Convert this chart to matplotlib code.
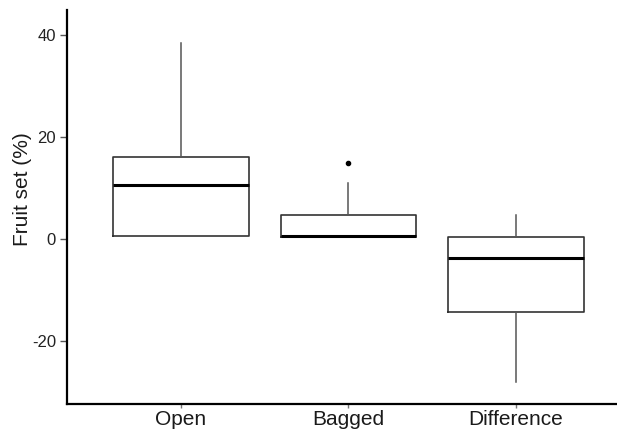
import matplotlib.pyplot as plt

# ──────────────────────────────────────────────────────────────────────────────
# Data
groups = ["Open", "Bagged", "Difference"]
q1 = [0.6, 0.45, -14.4]
med = [10.6, 0.6, -3.7]
q3 = [16.0, 4.8, 0.45]
whislo = [0.6, 0.45, -28.0]
whishi = [38.4, 10.9, 4.8]
fliers = [[], [15.0], []]
yticks = [-20, 0, 20, 40]
# ──────────────────────────────────────────────────────────────────────────────

plt.rcParams["font.family"] = ["Liberation Sans", "DejaVu Sans"]

fig = plt.figure(figsize=(6.17, 4.34), dpi=100)
ax = fig.add_axes([0.1088, 0.069, 0.912, 0.908])

stats = []
for i, name in enumerate(groups):
    stats.append({
        "label": name,
        "q1": q1[i], "med": med[i], "q3": q3[i],
        "whislo": whislo[i], "whishi": whishi[i],
        "fliers": fliers[i],
    })

ax.bxp(
    stats,
    positions=[1, 2, 3],
    widths=0.81,
    showcaps=False,
    boxprops=dict(color="#333333", linewidth=1.2),
    medianprops=dict(color="black", linewidth=2.2),
    whiskerprops=dict(color="#555555", linewidth=1.1),
    flierprops=dict(marker="o", markersize=3, markerfacecolor="black",
                    markeredgecolor="black"),
)

ax.set_xlim(0.32, 3.68)
ax.set_ylim(-32.35, 44.9)
ax.set_yticks(yticks)
ax.set_yticklabels([str(v) for v in yticks])
ax.set_ylabel("Fruit set (%)", fontsize=15, color="#1a1a1a")
# label sits a bit above the axis middle in the reference
ax.yaxis.set_label_coords(-0.062, 0.545)

ax.spines["top"].set_visible(False)
ax.spines["right"].set_visible(False)
ax.spines["left"].set_linewidth(1.6)
ax.spines["bottom"].set_linewidth(1.6)
ax.tick_params(axis="y", labelsize=12, colors="#555555", labelcolor="#222222",
               length=5, width=1, pad=3)
ax.tick_params(axis="x", labelsize=15, colors="#777777", labelcolor="#1a1a1a",
               length=3, width=1, pad=1.5)

fig.savefig("out.png", dpi=100)
